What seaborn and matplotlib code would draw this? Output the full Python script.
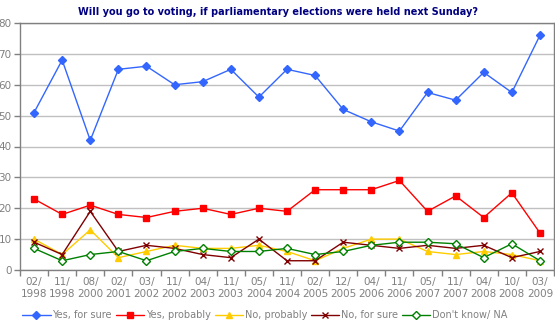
import matplotlib
matplotlib.use("Agg")
import matplotlib.pyplot as plt
from matplotlib.lines import Line2D
import seaborn as sns
import pandas as pd

periods = ["02/\n1998", "11/\n1998", "08/\n2000", "02/\n2001", "03/\n2002", "11/\n2002",
           "04/\n2003", "11/\n2003", "05/\n2004", "11/\n2004", "02/\n2005", "12/\n2005",
           "04/\n2006", "11/\n2006", "05/\n2007", "11/\n2007", "04/\n2008", "10/\n2008",
           "03/\n2009"]

yes_sure = [51, 68, 42, 65, 66, 60, 61, 65, 56, 65, 63, 52, 48, 45, 57.5, 55, 64, 57.5, 76]
yes_probably = [23, 18, 21, 18, 17, 19, 20, 18, 20, 19, 26, 26, 26, 29, 19, 24, 17, 25, 12]
no_probably = [10, 5, 13, 4, 6, 8, 7, 7, 8, 6, 3, 7, 10, 10, 6, 5, 6, 5, 3]
no_sure = [9, 5, 19, 6, 8, 7, 5, 4, 10, 3, 3, 9, 8, 7, 8, 7, 8, 4, 6]
dont_know = [7, 3, 5, 6, 3, 6, 7, 6, 6, 7, 5, 6, 8, 9, 9, 8.5, 4, 8.5, 3]

series_names = ["Yes, for sure", "Yes, probably", "No, probably", "No, for sure", "Don't know/ NA"]
series_values = [yes_sure, yes_probably, no_probably, no_sure, dont_know]

styles = {
    "Yes, for sure": dict(color="#3366FF", marker="D", ms=4.2, mfc="#3366FF", mec="#3366FF", mew=1),
    "Yes, probably": dict(color="#FF0000", marker="s", ms=5, mfc="#FF0000", mec="#FF0000", mew=1),
    "No, probably": dict(color="#FFCC00", marker="^", ms=5, mfc="#FFCC00", mec="#FFCC00", mew=1),
    "No, for sure": dict(color="#800000", marker="x", ms=4.5, mfc="#800000", mec="#800000", mew=1),
    "Don't know/ NA": dict(color="#008000", marker="D", ms=4.2, mfc="white", mec="#008000", mew=1),
}

frames = []
for name, vals in zip(series_names, series_values):
    frames.append(pd.DataFrame({"idx": range(len(periods)), "value": vals, "series": name}))
df = pd.concat(frames, ignore_index=True)

sns.set_theme(style="white")
plt.rcParams["font.family"] = ["DejaVu Sans"]

fig = plt.figure(figsize=(5.55, 3.25), dpi=100)
ax = fig.add_axes([20 / 555, 55 / 325, 534 / 555, 247 / 325])

grid_c = "#C0C0C0"
spine_c = "#808080"
text_c = "#808080"

for name in series_names:
    st = styles[name]
    sub = df[df["series"] == name]
    sns.lineplot(data=sub, x="idx", y="value", ax=ax, color=st["color"], lw=1,
                 marker=st["marker"], markersize=st["ms"], markerfacecolor=st["mfc"],
                 markeredgecolor=st["mec"], markeredgewidth=st["mew"], legend=False)

ax.set_xlim(-0.5, len(periods) - 0.5)
ax.set_ylim(0, 80)
ax.set_yticks(range(0, 81, 10))
ax.yaxis.grid(True, color=grid_c, lw=1)
ax.set_axisbelow(True)
ax.set_xticks(range(len(periods)))
ax.set_xticklabels(periods)
ax.set_xticks([i + 0.5 for i in range(-1, len(periods))], minor=True)
ax.tick_params(axis="x", which="major", length=0, pad=5, labelsize=7.5, labelcolor=text_c)
ax.tick_params(axis="x", which="minor", length=4, width=1, color=spine_c, bottom=True)
ax.tick_params(axis="y", length=4, width=1, color=spine_c, left=True, pad=2,
               labelsize=7.5, labelcolor=text_c)
ax.set_xlabel("")
ax.set_ylabel("")
for sp in ax.spines.values():
    sp.set_color(spine_c)
    sp.set_linewidth(1)

fig.text(0.5, 1 - 12 / 325,
         "Will you go to voting, if parliamentary elections were held next Sunday?",
         fontsize=7, fontweight="bold", color="#000080", ha="center", va="center")

handles = []
for name in series_names:
    st = styles[name]
    handles.append(Line2D([], [], color=st["color"], lw=1, marker=st["marker"],
                          markersize=st["ms"], markerfacecolor=st["mfc"],
                          markeredgecolor=st["mec"]))
leg = fig.legend(handles, series_names, loc="center", bbox_to_anchor=(265 / 555, 10 / 325),
                 ncol=5, frameon=False, fontsize=7, handlelength=2.9, handletextpad=0.2,
                 columnspacing=0.4, labelcolor=text_c, borderpad=0)

fig.savefig("out.png", dpi=100)
